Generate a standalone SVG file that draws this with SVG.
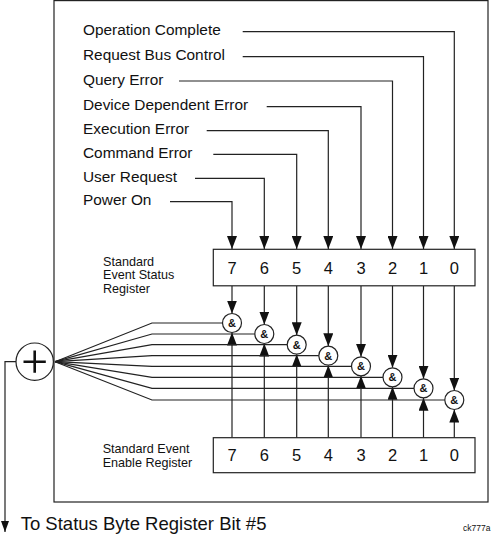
<svg xmlns="http://www.w3.org/2000/svg" width="491" height="536" viewBox="0 0 491 536">
<style>
.ln{fill:none;stroke:#222;stroke-width:1.2}
.lab{font-family:"Liberation Sans",Arial,sans-serif;font-size:15.4px;fill:#111}
.num{font-family:"Liberation Sans",Arial,sans-serif;font-size:16.5px;fill:#111;text-anchor:middle}
.reg{font-family:"Liberation Sans",Arial,sans-serif;font-size:12.6px;fill:#111}
.gate{fill:#fff;stroke:#222;stroke-width:1.2}
.amp{font-family:"Liberation Sans",Arial,sans-serif;font-size:11px;font-weight:bold;fill:#111;text-anchor:middle}
.box{fill:#fff;stroke:#222;stroke-width:1.2}
</style>
<defs>
<marker id="ah" markerUnits="userSpaceOnUse" markerWidth="13" markerHeight="10" viewBox="0 0 13 10" refX="13" refY="5" orient="auto">
<path d="M0,0 L13,5 L0,10 z" fill="#111"/>
</marker>
<marker id="ahs" markerUnits="userSpaceOnUse" markerWidth="11" markerHeight="8" viewBox="0 0 11 8" refX="11" refY="4" orient="auto">
<path d="M0,0 L11,4 L0,8 z" fill="#111"/>
</marker>
</defs>
<rect id="frame" x="54" y="0.6" width="434" height="501.4" class="ln"/>
<g id="connectors">
<path class="ln" marker-end="url(#ah)" d="M242.7,31.7 H454.3 V249"/>
<path class="ln" marker-end="url(#ah)" d="M242.7,56.7 H423.5 V249"/>
<path class="ln" marker-end="url(#ah)" d="M179,81 H392.5 V249"/>
<path class="ln" marker-end="url(#ah)" d="M266.7,106.7 H361 V249"/>
<path class="ln" marker-end="url(#ah)" d="M206.7,130.7 H328.3 V249"/>
<path class="ln" marker-end="url(#ah)" d="M213.3,154.3 H296.7 V249"/>
<path class="ln" marker-end="url(#ah)" d="M195,178.3 H264.3 V249"/>
<path class="ln" marker-end="url(#ah)" d="M170,201.7 H232 V249"/>
<path class="ln" marker-end="url(#ah)" d="M232,286 V313.5"/>
<path class="ln" marker-end="url(#ah)" d="M264.3,286 V324.5"/>
<path class="ln" marker-end="url(#ah)" d="M296.7,286 V335.2"/>
<path class="ln" marker-end="url(#ah)" d="M328.3,286 V346.2"/>
<path class="ln" marker-end="url(#ah)" d="M361,286 V356.8"/>
<path class="ln" marker-end="url(#ah)" d="M392.5,286 V367.8"/>
<path class="ln" marker-end="url(#ah)" d="M423.5,286 V378.8"/>
<path class="ln" marker-end="url(#ah)" d="M454.3,286 V390.5"/>
<path class="ln" marker-end="url(#ah)" d="M232,437.7 V332.5"/>
<path class="ln" marker-end="url(#ah)" d="M264.3,437.7 V343.5"/>
<path class="ln" marker-end="url(#ah)" d="M296.7,437.7 V354.2"/>
<path class="ln" marker-end="url(#ah)" d="M328.3,437.7 V365.2"/>
<path class="ln" marker-end="url(#ah)" d="M361,437.7 V375.8"/>
<path class="ln" marker-end="url(#ah)" d="M392.5,437.7 V386.8"/>
<path class="ln" marker-end="url(#ah)" d="M423.5,437.7 V397.8"/>
<path class="ln" marker-end="url(#ah)" d="M454.3,437.7 V409.5"/>
<path class="ln" d="M222.5,323 H152 L55,361.7"/>
<path class="ln" d="M254.8,334 H152 L55,361.7"/>
<path class="ln" d="M287.2,344.7 H152 L55,361.7"/>
<path class="ln" d="M318.8,355.7 H152 L55,361.7"/>
<path class="ln" d="M351.5,366.3 H152 L55,361.7"/>
<path class="ln" d="M383,377.3 H152 L55,361.7"/>
<path class="ln" d="M414,388.3 H152 L55,361.7"/>
<path class="ln" d="M444.8,400 H152 L55,361.7"/>
<path class="ln" marker-end="url(#ahs)" d="M16,361.7 H5 V532"/>
</g>
<g id="labels">
<text class="lab" x="83" y="35.2">Operation Complete</text>
<text class="lab" x="83" y="60.2">Request Bus Control</text>
<text class="lab" x="83" y="84.5">Query Error</text>
<text class="lab" x="83" y="110.2">Device Dependent Error</text>
<text class="lab" x="83" y="134.2">Execution Error</text>
<text class="lab" x="83" y="157.8">Command Error</text>
<text class="lab" x="83" y="181.8">User Request</text>
<text class="lab" x="83" y="205.2">Power On</text>
</g>
<g id="status-register">
<rect class="box" x="213.3" y="249.3" width="261.7" height="36.5"/>
<text class="num" x="232" y="273.8">7</text>
<text class="num" x="264.3" y="273.8">6</text>
<text class="num" x="296.7" y="273.8">5</text>
<text class="num" x="328.3" y="273.8">4</text>
<text class="num" x="361" y="273.8">3</text>
<text class="num" x="392.5" y="273.8">2</text>
<text class="num" x="423.5" y="273.8">1</text>
<text class="num" x="454.3" y="273.8">0</text>
<text class="reg" x="103" y="266">Standard</text>
<text class="reg" x="103" y="279.4">Event Status</text>
<text class="reg" x="103" y="292.8">Register</text>
</g>
<g id="enable-register">
<rect class="box" x="213.3" y="437.7" width="261.7" height="35"/>
<text class="num" x="232" y="461.3">7</text>
<text class="num" x="264.3" y="461.3">6</text>
<text class="num" x="296.7" y="461.3">5</text>
<text class="num" x="328.3" y="461.3">4</text>
<text class="num" x="361" y="461.3">3</text>
<text class="num" x="392.5" y="461.3">2</text>
<text class="num" x="423.5" y="461.3">1</text>
<text class="num" x="454.3" y="461.3">0</text>
<text class="reg" x="102.7" y="453.2">Standard Event</text>
<text class="reg" x="102.7" y="466.8">Enable Register</text>
</g>
<g id="gates">
<g id="gate7"><circle class="gate" cx="232" cy="323" r="9.5"/><text class="amp" x="232" y="327">&amp;</text></g>
<g id="gate6"><circle class="gate" cx="264.3" cy="334" r="9.5"/><text class="amp" x="264.3" y="338">&amp;</text></g>
<g id="gate5"><circle class="gate" cx="296.7" cy="344.7" r="9.5"/><text class="amp" x="296.7" y="348.7">&amp;</text></g>
<g id="gate4"><circle class="gate" cx="328.3" cy="355.7" r="9.5"/><text class="amp" x="328.3" y="359.7">&amp;</text></g>
<g id="gate3"><circle class="gate" cx="361" cy="366.3" r="9.5"/><text class="amp" x="361" y="370.3">&amp;</text></g>
<g id="gate2"><circle class="gate" cx="392.5" cy="377.3" r="9.5"/><text class="amp" x="392.5" y="381.3">&amp;</text></g>
<g id="gate1"><circle class="gate" cx="423.5" cy="388.3" r="9.5"/><text class="amp" x="423.5" y="392.3">&amp;</text></g>
<g id="gate0"><circle class="gate" cx="454.3" cy="400" r="9.5"/><text class="amp" x="454.3" y="404">&amp;</text></g>
</g>
<g id="sum">
<circle class="gate" cx="34.7" cy="361.7" r="18.7"/>
<path d="M23.5,361.7 H45.8 M34.7,350.6 V372.8" fill="none" stroke="#111" stroke-width="2.6"/>
</g>
<g id="output-label">
<text class="lab" style="font-size:18.5px" x="20.7" y="529.5">To Status Byte Register Bit #5</text>
</g>
<text class="lab" style="font-size:8.5px" x="463" y="530.5">ck777a</text>
</svg>
